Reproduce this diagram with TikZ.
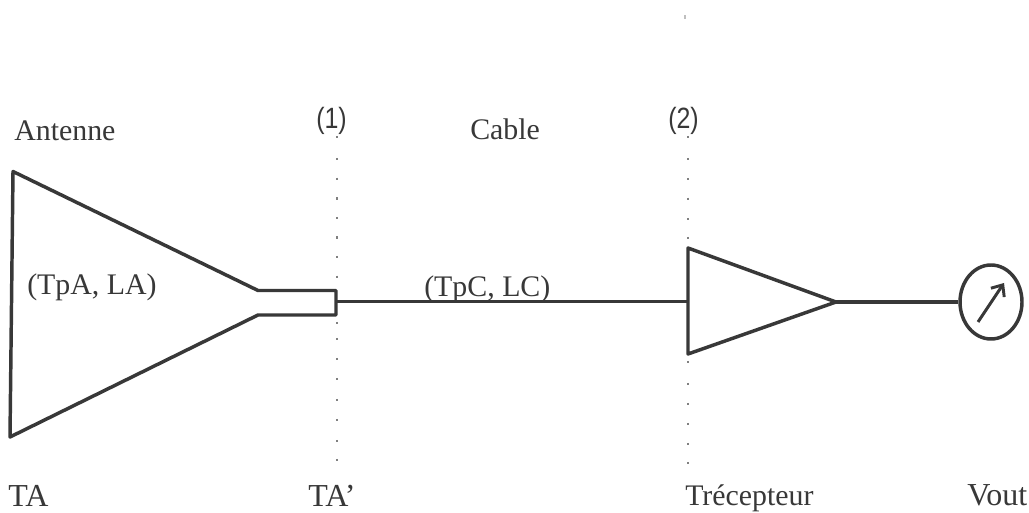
\documentclass[tikz,border=0pt]{standalone}
\usepackage{fontspec}
\usetikzlibrary{shapes.geometric,arrows.meta}
\setmainfont{Liberation Serif}
\newfontfamily\sansf[FakeStretch=0.85]{Liberation Sans}
\tikzset{
 lbl/.style={font=\fontsize{22.4}{26}\selectfont, inner sep=0pt, text=black!78},
 lblw/.style={font=\fontsize{24}{26}\selectfont, inner sep=0pt, text=black!78},
 lnum/.style={font=\sansf\fontsize{22}{26}\selectfont, inner sep=0pt, text=black!78},
 wire/.style={draw=black!78, line width=2.6pt, line join=round},
 sect/.style={draw=black!50, line width=0.9pt}
}
\begin{document}
\begin{tikzpicture}[x=0.75pt,y=-0.75pt]
\useasboundingbox (0,0) rectangle (1029,513);
\fill[white] (0,0) rectangle (1029,513);
\foreach \y in {136,158,177.6,197.2,216.8,236.4,256,275.6,322,338,358,378,399,419,440,459}
  \path[sect] (337,\y) -- (337,\y+2.5);
\foreach \y in {136,158,178,197.6,218,237,361,383,403,423,443,462}
  \path[sect] (688,\y) -- (688,\y+2.5);
\path[draw=black!25, line width=1.2pt] (685,15.5) -- (685,19);
\coordinate (a1) at (13,171.5);
\coordinate (a2) at (258,290.5);
\coordinate (a3) at (336,290.5);
\coordinate (a4) at (336,315);
\coordinate (a5) at (258,315);
\coordinate (a6) at (10,437);
\path[wire] (a1) -- (a2) -- (a3) -- (a4) -- (a5) -- (a6) -- cycle;
\coordinate (c0) at (336,301.5);
\coordinate (r1) at (688,248);
\coordinate (r2) at (836,302);
\coordinate (r3) at (688,354);
\coordinate (r4) at (688,301.5);
\path[wire] (r1) -- (r2) -- (r3) -- cycle;
\path[wire] (c0) -- (r4);
\node[ellipse, draw=black!78, line width=2.6pt, minimum width=46.5pt, minimum height=55.5pt, inner sep=0pt] (m) at (991,302) {};
\path[wire] (r2) -- (m.west);
\coordinate (m1) at (978,322);
\coordinate (m2) at (1004,283);
\draw[draw=black!78, line width=2.2pt, -{Straight Barb[length=7pt,width=12pt]}] (m1) -- (m2);
\node[lbl,anchor=base west] (t1) at (14,141) {Antenne};
\node[lnum,anchor=base west] (t2) at (316,129) {(1)};
\node[lbl,anchor=base west] (t3) at (470,140) {Cable};
\node[lnum,anchor=base west] (t4) at (668,129) {(2)};
\node[lbl,anchor=base west] (t5) at (27,295) {(TpA, LA)};
\node[lbl,anchor=base west] (t6) at (424,297) {(TpC, LC)};
\node[lblw,anchor=base west] (t7) at (8,506) {TA};
\node[lblw,anchor=base west] (t8) at (308,506) {TA'};
\node[lbl,anchor=base west] (t9) at (685,505) {Trécepteur};
\node[lblw,anchor=base west] (t10) at (967,505) {Vout};
\end{tikzpicture}
\end{document}
